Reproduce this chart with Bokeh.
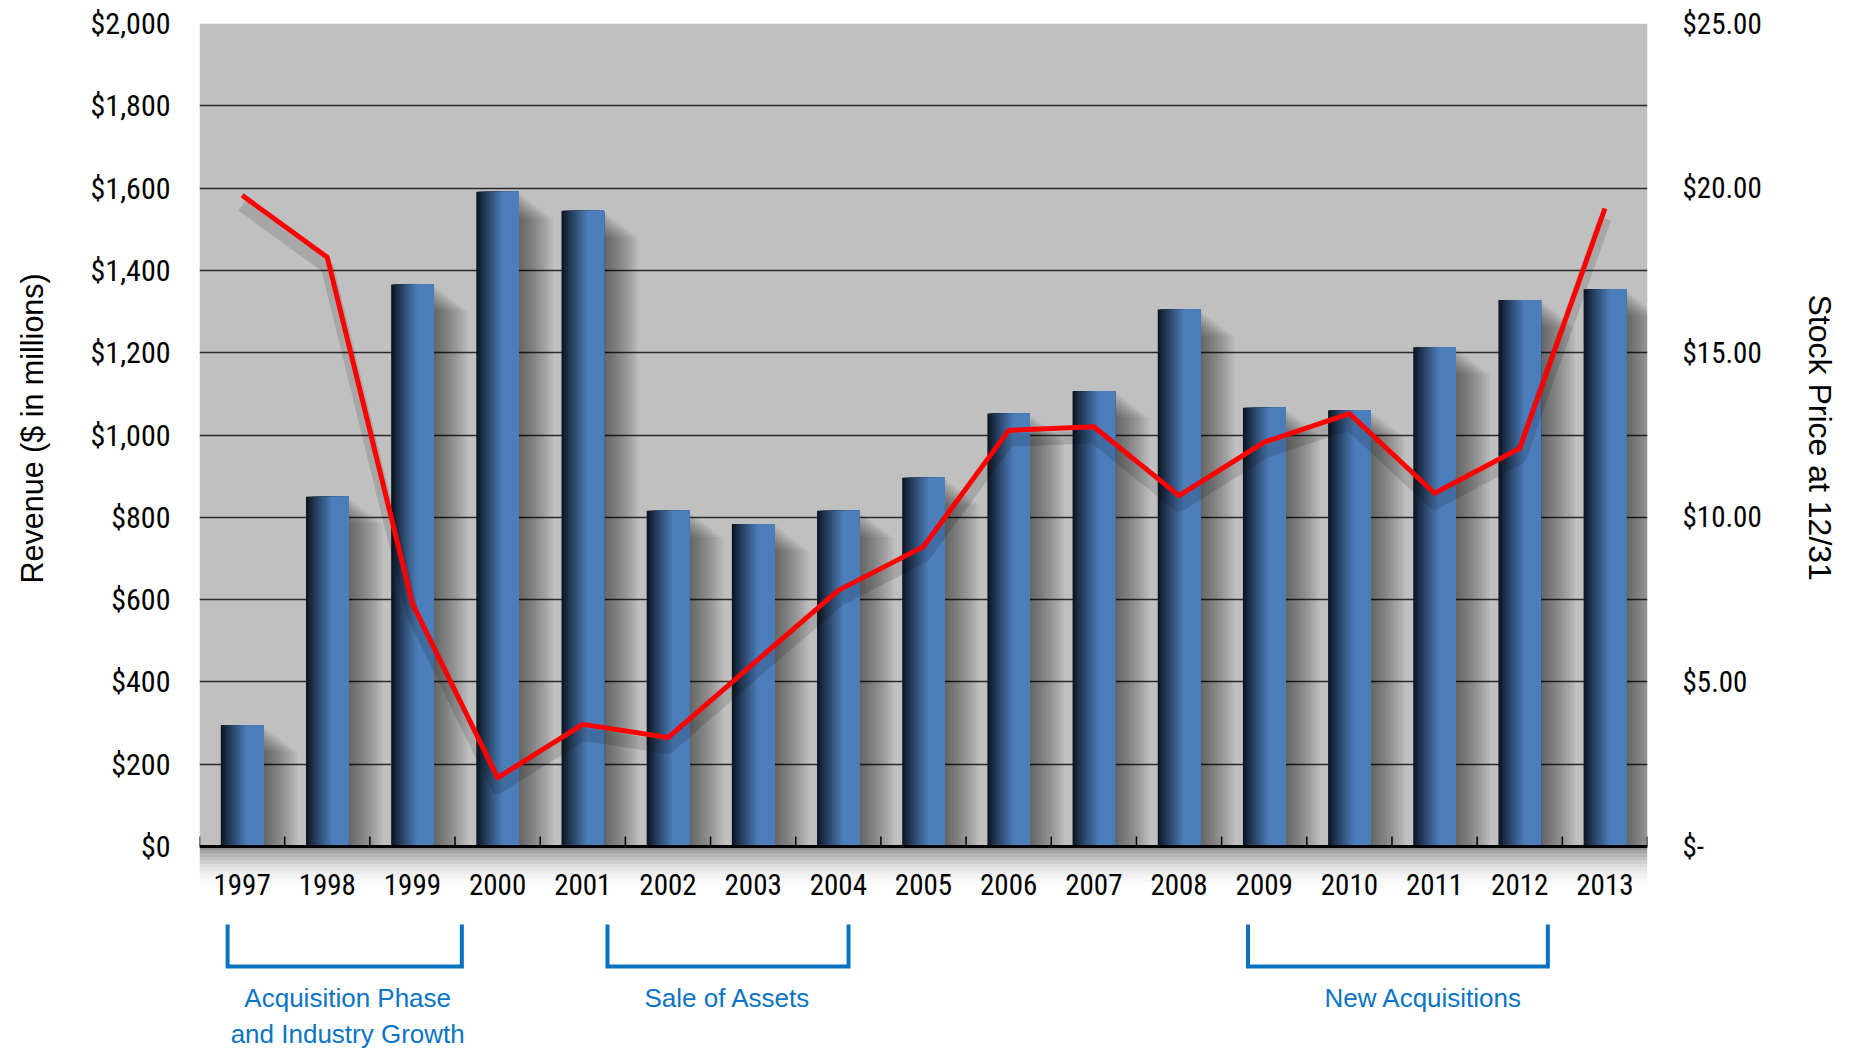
from bokeh.plotting import figure
from bokeh.models import (ColumnDataSource, Range1d, FactorRange, LinearAxis,
                          FixedTicker, NumeralTickFormatter, BoxAnnotation, Title)
from bokeh.transform import dodge
from bokeh.core.properties import value
from bokeh.embed import file_html
from bokeh.resources import INLINE

# ---------------- data ----------------
years = ["1997", "1998", "1999", "2000", "2001", "2002", "2003", "2004", "2005",
         "2006", "2007", "2008", "2009", "2010", "2011", "2012", "2013"]
revenue = [295, 850, 1366, 1591, 1545, 816, 784, 816, 896,
           1052, 1107, 1305, 1066, 1060, 1213, 1328, 1354]
price = [19.78, 17.90, 7.38, 2.09, 3.71, 3.31, 5.55, 7.78, 9.11,
         12.64, 12.75, 10.66, 12.28, 13.15, 10.73, 12.10, 19.38]

rev_ticks = [0, 200, 400, 600, 800, 1000, 1200, 1400, 1600, 1800, 2000]
price_ticks = [0, 5, 10, 15, 20, 25]
price_tick_labels = ["$-", "$5.00", "$10.00", "$15.00", "$20.00", "$25.00"]

left_title = "Revenue ($ in millions)"
right_title = "Stock Price at 12/31"

phase_labels = ["Acquisition Phase\nand Industry Growth", "Sale of Assets", "New Acquisitions"]
phase_start = ["1997", "2001", "2008"]
phase_start_off = [-0.17, 0.29, 0.81]
phase_end = ["1999", "2004", "2012"]
phase_end_off = [0.58, 0.12, 0.33]
phase_label_at = ["1998", "2003", "2011"]
phase_label_off = [0.24, -0.30, -0.13]

# ---------------- layout constants ----------------
W, H = 1856, 1050
BORDER_TOP, BORDER_LEFT, BORDER_RIGHT = 23, 199, 209
FRAME_H = H - BORDER_TOP
ZERO_PX = 823                       # px from frame top to the zero line
REV_MAX = 2000
UPP = REV_MAX / ZERO_PX             # data units per pixel
Y_MIN = -(FRAME_H - ZERO_PX) * UPP
PRICE_MAX = 25
RATIO = REV_MAX / PRICE_MAX

NARROW = "Roboto Condensed, Liberation Sans Narrow, Liberation Sans"
REG = "Liberation Sans"
BLUE_TXT = "#0b74c4"

p = figure(width=W, height=H, x_range=FactorRange(*years),
           y_range=Range1d(Y_MIN, REV_MAX), output_backend="svg",
           toolbar_location=None, min_border_left=BORDER_LEFT,
           min_border_right=BORDER_RIGHT, min_border_top=BORDER_TOP,
           min_border_bottom=0)
p.extra_y_ranges = {"price": Range1d(Y_MIN / RATIO, PRICE_MAX)}
p.outline_line_color = None
p.background_fill_color = "white"
p.border_fill_color = "white"

# plot area background
p.add_layout(BoxAnnotation(bottom=0, top=REV_MAX, fill_color="#c0c0c0",
                           fill_alpha=1, line_color=None, level="image"))
# soft shadow under the plot area
NB = 12
for k in range(NB):
    top = -k * 3.5 * UPP
    bot = -(k + 1) * 3.5 * UPP
    a = 0.42 * (1 - k / NB) ** 2
    p.add_layout(BoxAnnotation(bottom=bot, top=top, fill_color="black",
                               fill_alpha=a, line_color=None, level="image"))

# grid
p.xgrid.grid_line_color = None
p.ygrid.ticker = FixedTicker(ticks=rev_ticks[1:])
p.ygrid.grid_line_color = "#2a2a2a"
p.ygrid.grid_line_width = 1.5

src = ColumnDataSource(dict(year=years, revenue=revenue, price=price))

BAR_W = 0.5
# bar shadows (to the right): nested strips starting at the bar edge,
# wider strips a little lower so the top corner fades softly
MS = 12
SH_W = 0.40
for k in range(MS):
    w = SH_W * (1 - k / MS)
    off = BAR_W / 2 + w / 2
    drop = (MS - k) * 2.2 * UPP
    p.vbar(x=dodge("year", off, range=p.x_range), top=dodge("revenue", -drop),
           bottom=0, width=w, source=src, fill_color="black", fill_alpha=0.048,
           line_color=None)

# gradient bars: layered strips, each reaching the right edge
c0 = (10, 17, 28)
c1 = (76, 126, 187)
N = 20
for i in range(N):
    t = i / N
    f = min(1.0, (t + 0.5 / N) / 0.62) ** 0.9
    col = "#%02x%02x%02x" % tuple(int(round(c0[j] + (c1[j] - c0[j]) * f)) for j in range(3))
    left = -BAR_W / 2 + t * BAR_W
    w = BAR_W / 2 - left
    p.vbar(x=dodge("year", left + w / 2, range=p.x_range), top="revenue", bottom=0,
           width=w, source=src, fill_color=col, line_color=None)

# stock price line
p.line(x="year", y=dodge("price", -0.3), y_range_name="price", source=src,
       line_color="black", line_alpha=0.13, line_width=13, line_join="round")
p.line(x="year", y="price", y_range_name="price", source=src,
       line_color="#ff0000", line_width=5, line_join="round")

# small inward ticks at category boundaries
bx = [[y, -0.5] for y in years] + [[years[-1], 0.5]]
p.segment(x0=bx, y0=[0] * len(bx), x1=bx, y1=[10 * UPP] * len(bx),
          line_color="black", line_width=1.5)

# x axis at zero
p.xaxis.fixed_location = 0
p.xaxis.axis_line_color = "black"
p.xaxis.axis_line_width = 3
p.xaxis.major_tick_line_color = None
p.xaxis.major_tick_in = 0
p.xaxis.major_tick_out = 0
p.xaxis.minor_tick_line_color = None
p.xaxis.major_label_text_font = NARROW
p.xaxis.major_label_text_font_size = "29px"
p.xaxis.major_label_text_color = "black"
p.xaxis.major_label_standoff = 27

# left axis
ya = p.yaxis[0]
ya.ticker = FixedTicker(ticks=rev_ticks)
ya.formatter = NumeralTickFormatter(format="$0,0")
ya.bounds = (0, REV_MAX)
ya.axis_line_color = None
ya.major_tick_line_color = None
ya.minor_tick_line_color = None
ya.major_tick_in = 0
ya.major_tick_out = 0
ya.major_label_text_font = NARROW
ya.major_label_text_font_size = "30px"
ya.major_label_text_color = "black"
ya.major_label_standoff = 29

# right axis
ra = LinearAxis(y_range_name="price", ticker=FixedTicker(ticks=price_ticks),
                major_label_overrides={t: l for t, l in zip(price_ticks, price_tick_labels)},
                bounds=(0, PRICE_MAX))
ra.axis_line_color = None
ra.major_tick_line_color = None
ra.minor_tick_line_color = None
ra.major_tick_in = 0
ra.major_tick_out = 0
ra.major_label_text_font = NARROW
ra.major_label_text_font_size = "29px"
ra.major_label_text_color = "black"
ra.major_label_standoff = 35
p.add_layout(ra, "right")


def spacer_axis(px, tick, **kw):
    """An invisible axis that only reserves px pixels between tick labels and title."""
    return LinearAxis(ticker=FixedTicker(ticks=[tick]), major_label_overrides={tick: ""},
                      major_tick_out=px, major_tick_in=0, minor_tick_out=0,
                      minor_tick_in=0, major_label_standoff=0,
                      axis_line_color=None, major_tick_line_color="white",
                      major_tick_line_width=1, minor_tick_line_color=None,
                      major_label_text_font_size="1px", major_label_text_color="white",
                      **kw)


p.add_layout(spacer_axis(37, REV_MAX / 2), "left")
p.add_layout(spacer_axis(35, PRICE_MAX / 2, y_range_name="price"), "right")

# axis titles (centred on the grey plot area, not on the whole frame)
lt = Title(text=left_title, align="left", offset=467, vertical_align="top",
           standoff=0, text_font=REG, text_font_size="30.5px",
           text_font_style="normal", text_color="black")
p.add_layout(lt, "left")
rt = Title(text=right_title, align="left", offset=271, vertical_align="top",
           standoff=0, text_font=REG, text_font_size="32px",
           text_font_style="normal", text_color="black")
p.add_layout(rt, "right")

# phase brackets
BR_TOP = -78 * UPP
BR_BOT = -120 * UPP
xs, ys = [], []
for s, so, e, eo in zip(phase_start, phase_start_off, phase_end, phase_end_off):
    xs.append([[s, so], [s, so], [e, eo], [e, eo]])
    ys.append([BR_TOP, BR_BOT, BR_BOT, BR_TOP])
p.multi_line(xs=xs, ys=ys, line_color="#0a72c2", line_width=4, line_join="miter")

lx = [[f, o] for f, o in zip(phase_label_at, phase_label_off)]
p.text(x=lx, y=[-136 * UPP] * len(lx), text=phase_labels,
       text_font=value(REG), text_font_size="26px", text_color=BLUE_TXT,
       text_align="center", text_baseline="top", text_line_height=1.2)

open("out.html", "w").write(file_html(p, INLINE))
